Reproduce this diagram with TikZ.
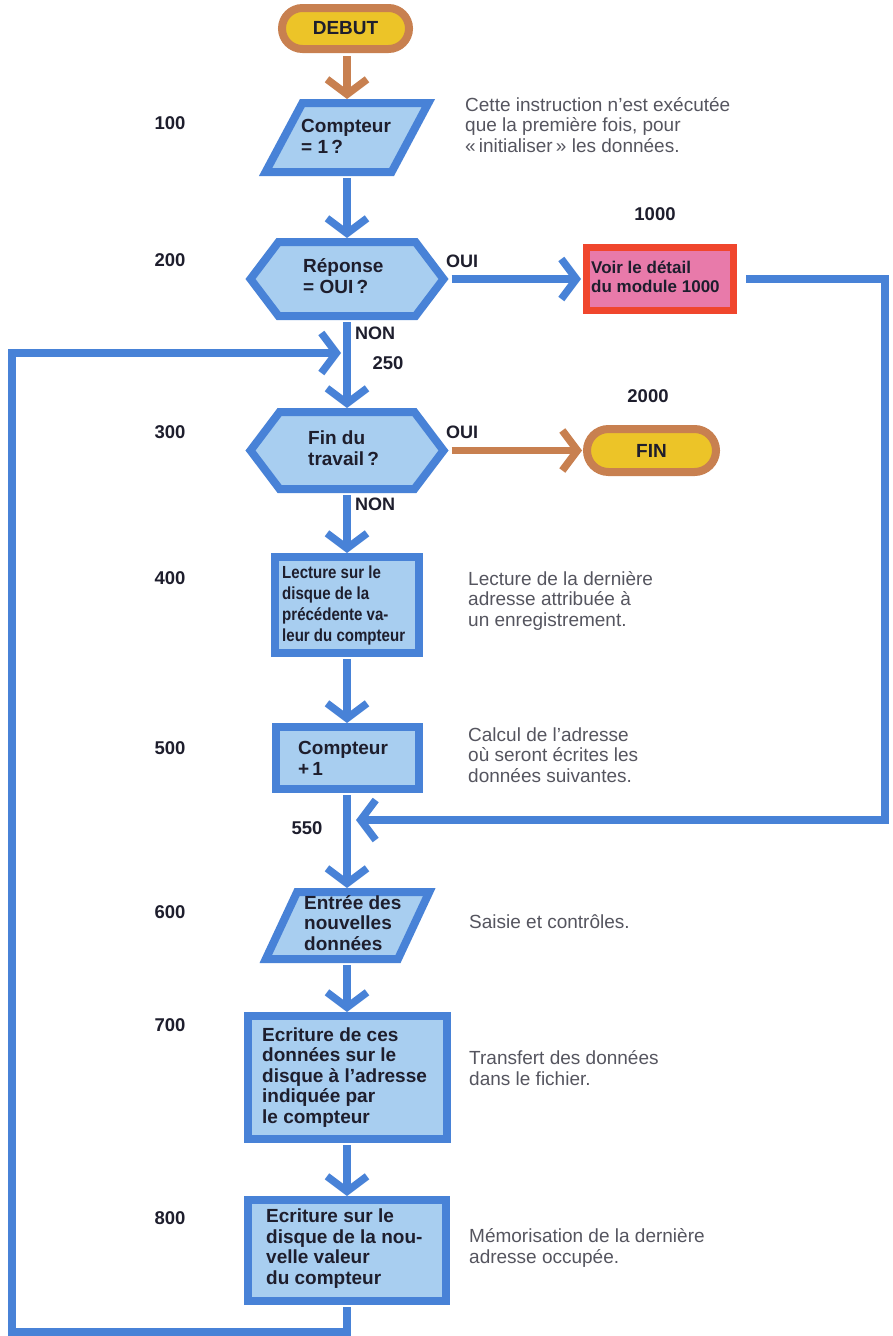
\documentclass[tikz,border=0pt]{standalone}
\usepackage{fontspec}
\setmainfont{Liberation Sans}
\newfontfamily\condfont[FakeStretch=0.86]{Liberation Sans}
\usetikzlibrary{arrows.meta}
\definecolor{lblue}{RGB}{72,130,215}
\definecolor{fblue}{RGB}{168,206,240}
\definecolor{txt}{RGB}{30,30,45}
\definecolor{brn}{RGB}{200,128,80}
\definecolor{yel}{RGB}{236,196,40}
\definecolor{redb}{RGB}{240,70,45}
\definecolor{pinkf}{RGB}{232,122,170}
\definecolor{gtxt}{RGB}{85,85,95}
\tikzset{
  barrow/.style={line width=7.5pt, draw=lblue, -{Straight Barb[length=15pt,width=40pt]}},
  oarrow/.style={line width=7.5pt, draw=brn, -{Straight Barb[length=15pt,width=40pt]}},
  shp/.style={line width=8pt, draw=lblue, fill=fblue, line join=miter},
  box/.style={shp, rectangle, inner sep=0pt},
  anch/.style={rectangle, inner sep=0pt, outer sep=0pt, draw=none},
  term/.style={rectangle, line width=8pt, draw=brn, fill=yel, inner sep=0pt,
    font=\bfseries\fontsize{19}{21}\selectfont, text=txt},
  redbox/.style={rectangle, line width=7pt, draw=redb, fill=pinkf, inner sep=0pt},
  btxt/.style={font=\bfseries\fontsize{19}{20.5}\selectfont, text=txt, align=left, inner sep=0pt, anchor=base west},
  ctxt/.style={font=\condfont\bfseries\fontsize{17.5}{20.8}\selectfont, text=txt, align=left, inner sep=0pt, anchor=base west},
  dtxt/.style={font=\fontsize{19}{20.5}\selectfont, text=gtxt, align=left, inner sep=0pt, anchor=base west},
  num/.style={font=\bfseries\fontsize{18.5}{20}\selectfont, text=txt, inner sep=0pt},
  lab/.style={font=\bfseries\fontsize{18}{20}\selectfont, text=txt, inner sep=0pt},
}
\begin{document}
\begin{tikzpicture}[x=1pt,y=-1pt]
\fill[white] (0,0) rectangle (893,1336);
\useasboundingbox (0,0) rectangle (893,1336);

% shapes
\node[term, minimum width=127pt, minimum height=41pt, rounded corners=20.5pt] (debut) at (345.5,28.5) {DEBUT};

\draw[shp] (302.4,103) -- (428.4,103) -- (391.6,172) -- (265.6,172) -- cycle;
\node[anch, minimum width=130pt, minimum height=77pt] (c100) at (347,137.5) {};

\draw[shp] (250.5,279) -- (278.5,242) -- (415.5,242) -- (443.5,279) -- (415.5,316) -- (278.5,316) -- cycle;
\node[anch, minimum width=203pt, minimum height=82pt] (q200) at (347,279) {};

\node[redbox, minimum width=147pt, minimum height=63pt] (m1000) at (660,279) {};

\draw[shp] (250.5,450.5) -- (279.6,412) -- (414.4,412) -- (443.5,450.5) -- (414.4,489) -- (279.6,489) -- cycle;
\node[anch, minimum width=203pt, minimum height=85pt] (q300) at (347,450.5) {};

\node[term, minimum width=129pt, minimum height=43pt, rounded corners=21.5pt] (fin) at (651.5,450.5) {FIN};

\node[box, minimum width=144pt, minimum height=96pt] (b400) at (347,605) {};
\node[box, minimum width=143pt, minimum height=62pt] (b500) at (347,758) {};

\draw[shp] (297.1,892) -- (429.3,892) -- (398,959) -- (265.8,959) -- cycle;
\node[anch, minimum width=140pt, minimum height=75pt] (p600) at (347,925.5) {};

\node[box, minimum width=199pt, minimum height=123pt] (b700) at (347,1077.5) {};
\node[box, minimum width=198pt, minimum height=101pt] (b800) at (347,1250.5) {};

% texts in shapes (anchor = baseline of the last line)
\node[btxt] (t100) at (301,153) {Compteur\\= 1\,?};
\node[btxt] (t200) at (303,293) {Réponse\\= OUI\,?};
\node[btxt, font=\bfseries\fontsize{17}{19}\selectfont] (t1000) at (591,292) {Voir le détail\\du module 1000};
\node[btxt] (t300) at (308,465) {Fin du\\travail\,?};
\node[ctxt] (t400) at (282,641) {Lecture sur le\\disque de la\\précédente va-\\leur du compteur};
\node[btxt] (t500) at (298,775) {Compteur\\+\,1};
\node[btxt] (t600) at (304,950) {Entrée des\\nouvelles\\données};
\node[btxt] (t700) at (262,1123) {Ecriture de ces\\données sur le\\disque à l’adresse\\indiquée par\\le compteur};
\node[btxt] (t800) at (266,1284) {Ecriture sur le\\disque de la nou-\\velle valeur\\du compteur};

% descriptions
\node[dtxt] (d100) at (465,152) {Cette instruction n’est exécutée\\que la première fois, pour\\«\,initialiser\,» les données.};
\node[dtxt] (d400) at (468,626) {Lecture de la dernière\\adresse attribuée à\\un enregistrement.};
\node[dtxt] (d500) at (468,782) {Calcul de l’adresse\\où seront écrites les\\données suivantes.};
\node[dtxt] (d600) at (469,928) {Saisie et contrôles.};
\node[dtxt] (d700) at (469,1085) {Transfert des données\\dans le fichier.};
\node[dtxt] (d800) at (469,1263) {Mémorisation de la dernière\\adresse occupée.};

% numbers
\node[num] (n100) at (170,123) {100};
\node[num] (n200) at (170,260) {200};
\node[num] (n300) at (170,432) {300};
\node[num] (n400) at (170,578) {400};
\node[num] (n500) at (170,748) {500};
\node[num] (n600) at (170,912) {600};
\node[num] (n700) at (170,1025) {700};
\node[num] (n800) at (170,1218) {800};
\node[num] (n1000) at (655,214) {1000};
\node[num] (n2000) at (648,396) {2000};
\node[num] (n250) at (388,363) {250};
\node[num] (n550) at (307,828) {550};

\node[lab, anchor=west] (non1) at (355,333) {NON};
\node[lab, anchor=west] (non2) at (355,504) {NON};
\node[lab] (oui1) at (462,261) {OUI};
\node[lab] (oui2) at (462,432) {OUI};

% junction points and corners
\coordinate (j250) at (341,353);
\coordinate (j550) at (356,820);
\coordinate (cBL) at (12,1332);
\coordinate (cR) at (885,820);

% connectors
\draw[oarrow, shorten <=3pt] (debut.south -| c100.north) -- (c100.north);
\draw[barrow, shorten <=2pt] (c100.south) -- (q200.north);
\draw[barrow, shorten <=3pt, shorten >=2pt] (q200.east) -- (m1000.west);
\draw[barrow, shorten <=2pt] (q200.south) -- (q300.north);
\draw[oarrow, shorten <=3pt, shorten >=1pt] (q300.east) -- (fin.west);
\draw[barrow, shorten <=2pt] (q300.south) -- (b400.north);
\draw[barrow, shorten <=2pt] (b400.south) -- (b500.north);
\draw[barrow, shorten <=2pt] (b500.south) -- (p600.north);
\draw[barrow, shorten <=2pt] (p600.south) -- (b700.north);
\draw[barrow, shorten <=2pt] (b700.south) -- (b800.north);
\draw[barrow, shorten <=2pt] (b800.south) |- (cBL) |- (j250);
\draw[barrow, shorten <=9pt] (m1000.east) -| (cR) -- (j550);
\end{tikzpicture}
\end{document}
